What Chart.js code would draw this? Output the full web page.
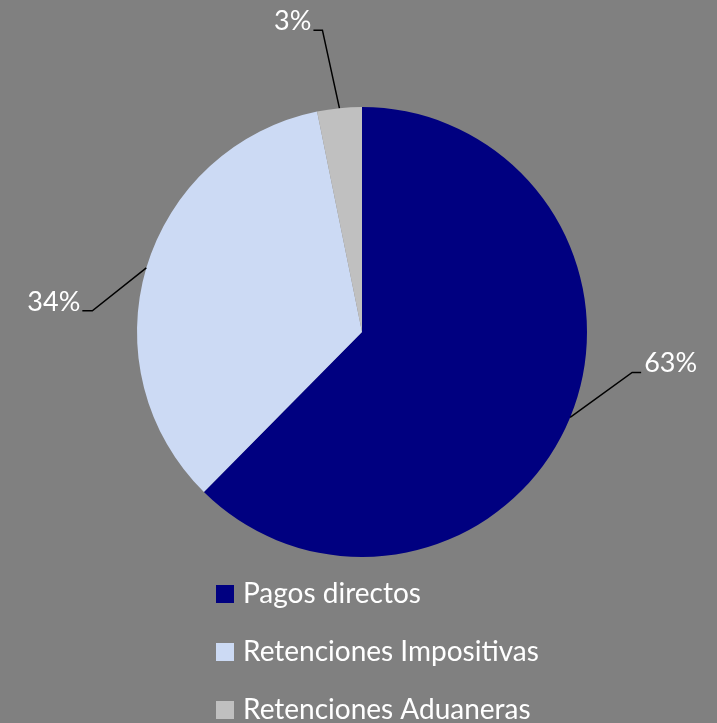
<!DOCTYPE html>
<html>
<head>
<meta charset="utf-8">
<script src="https://cdn.jsdelivr.net/npm/chart.js@4.4.0/dist/chart.umd.min.js"></script>
<style>
html,body{margin:0;padding:0;background:#808080;}
#wrap{width:717px;height:723px;position:relative;}
</style>
</head>
<body>
<div id="wrap"><canvas id="c" width="717" height="723"></canvas></div>
<script>
const categories = ["Pagos directos", "Retenciones Impositivas", "Retenciones Aduaneras"];
const values = [62.4, 34.4, 3.2];
const labelTexts = ["63%", "34%", "3%"];
const colors = ["#000080", "#CCDAF4", "#C0C0C0"];

// leader-line geometry: offset of elbow from slice edge point, horizontal tail length, side
const leader = [
  {dx: 62, dy: -45, tail: 9, side: 1},
  {dx: -54, dy: 43, tail: -10, side: -1},
  {dx: -17, dy: -78, tail: -9, side: -1}
];

const labelFont = "27px Lato";
const legendFont = "28px Lato";

const leaderPlugin = {
  id: 'leaders',
  afterDatasetsDraw(chart) {
    const ctx = chart.ctx;
    const meta = chart.getDatasetMeta(0);
    ctx.save();
    meta.data.forEach((arc, i) => {
      const p = arc.getProps(['x','y','startAngle','endAngle','outerRadius'], true);
      const mid = (p.startAngle + p.endAngle) / 2;
      const ex = p.x + Math.cos(mid) * p.outerRadius;
      const ey = p.y + Math.sin(mid) * p.outerRadius;
      const L = leader[i];
      const bx = ex + L.dx, by = ey + L.dy;
      const tx = bx + L.tail;
      ctx.strokeStyle = '#000';
      ctx.lineWidth = 1.5;
      ctx.beginPath();
      ctx.moveTo(ex, ey);
      ctx.lineTo(bx, by);
      ctx.lineTo(tx, by);
      ctx.stroke();
      ctx.fillStyle = '#fff';
      ctx.font = labelFont;
      ctx.textBaseline = 'middle';
      if (L.side > 0) {
        ctx.textAlign = 'left';
        ctx.fillText(labelTexts[i], tx + 3, by - 9);
      } else {
        ctx.textAlign = 'right';
        ctx.fillText(labelTexts[i], tx - 2, by - 9);
      }
    });
    ctx.restore();
  }
};

const legendPlugin = {
  id: 'customLegend',
  afterDraw(chart) {
    const ctx = chart.ctx;
    ctx.save();
    ctx.font = legendFont;
    ctx.textBaseline = 'middle';
    ctx.textAlign = 'left';
    categories.forEach((c, i) => {
      const y = 594 + i * 58;
      ctx.fillStyle = colors[i];
      ctx.fillRect(216, y - 9, 18, 18);
      ctx.fillStyle = '#fff';
      ctx.fillText(c, 243, y);
    });
    ctx.restore();
  }
};

new Chart(document.getElementById('c'), {
  type: 'pie',
  data: {
    labels: categories,
    datasets: [{
      data: values,
      backgroundColor: colors,
      borderWidth: 0
    }]
  },
  options: {
    responsive: false,
    animation: false,
    layout: { padding: { top: 107, bottom: 166, left: 137, right: 130 } },
    plugins: {
      legend: { display: false },
      tooltip: { enabled: false }
    }
  },
  plugins: [leaderPlugin, legendPlugin]
});
</script>
</body>
</html>
